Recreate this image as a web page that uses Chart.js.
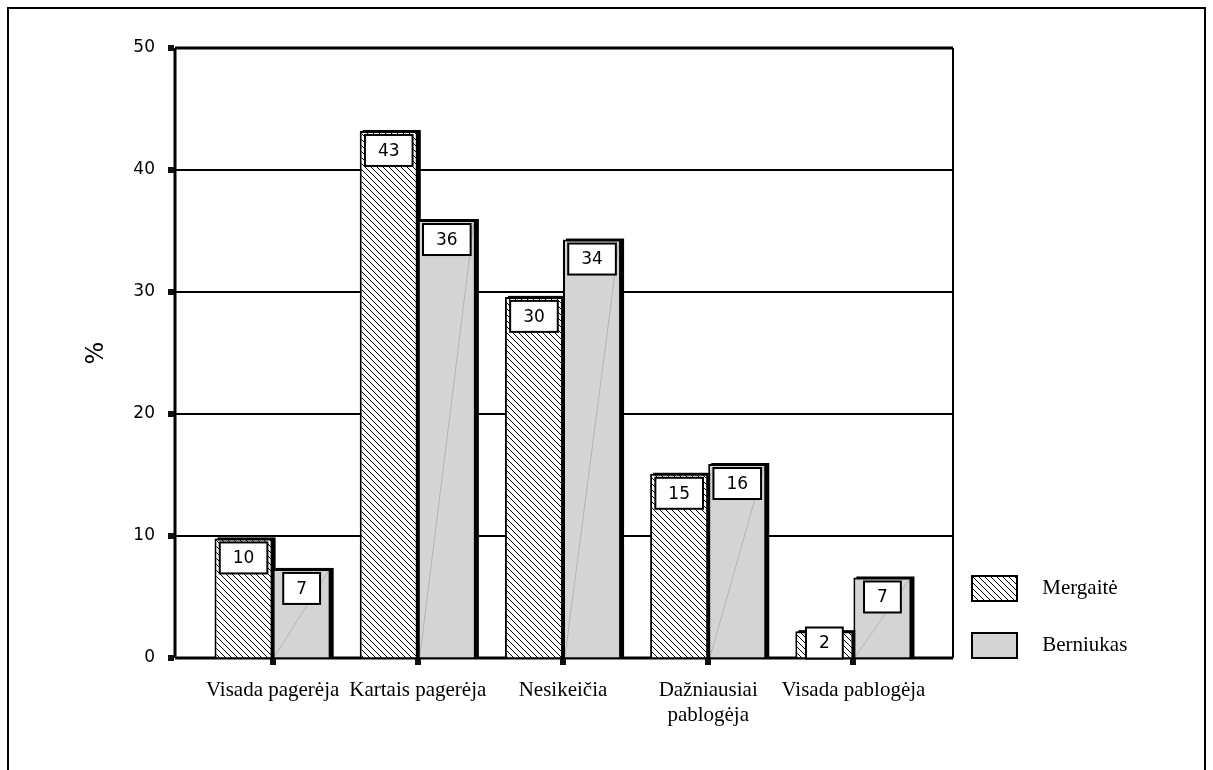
<!DOCTYPE html>
<html>
<head>
<meta charset="utf-8">
<script src="https://cdn.jsdelivr.net/npm/chart.js@4.4.0/dist/chart.umd.min.js"></script>
<style>
  body { margin: 0; background: #fff; }
  #wrap { position: relative; width: 1213px; height: 770px; overflow: hidden; }
  #frame { position: absolute; left: 7px; top: 7px; width: 1199px; height: 900px; border: 2px solid #000; box-sizing: border-box; }
  #chart { position: absolute; left: 0; top: 0; }
</style>
</head>
<body>
<div id="wrap">
  <div id="frame"></div>
  <canvas id="chart" width="1213" height="770"></canvas>
</div>
<script>
// data
const categories = ['Visada pagerėja', 'Kartais pagerėja', 'Nesikeičia', ['Dažniausiai', 'pablogėja'], 'Visada pablogėja'];
const seriesNames = ['Mergaitė', 'Berniukas'];
const girls = [9.8, 43.2, 29.6, 15.1, 2.2];
const boys = [7.3, 35.9, 34.3, 15.9, 6.6];
const yMin = 0, yMax = 50, yStep = 10;

Chart.defaults.font.family = '"DejaVu Sans", sans-serif';
Chart.defaults.color = '#000';

// diagonal hatch like the old office fill
function hatchPattern() {
    const c = document.createElement('canvas');
    c.width = 6; c.height = 6;
    const g = c.getContext('2d');
    g.fillStyle = '#fff';
    g.fillRect(0, 0, 6, 6);
    g.strokeStyle = '#000';
    g.lineWidth = 1;
    g.beginPath();
    g.moveTo(-1, -1); g.lineTo(7, 7);
    g.moveTo(-1, 5); g.lineTo(1, 7);
    g.moveTo(5, -1); g.lineTo(7, 1);
    g.stroke();
    return g.createPattern(c, 'repeat');
}

// plot frame + grid reaching past the bar area, square tick marks, bar shadows
const plotFrame = {
    id: 'plotFrame',
    beforeDatasetsDraw(chart) {
        const { ctx, chartArea: a, scales: { x, y } } = chart;
        const left = a.left - 25, right = a.right + 27;
        ctx.save();
        ctx.strokeStyle = '#000';
        ctx.lineWidth = 2;
        y.ticks.forEach(t => {
            if (t.value <= yMin || t.value >= yMax) return;
            const py = Math.round(y.getPixelForValue(t.value));
            ctx.beginPath(); ctx.moveTo(left, py); ctx.lineTo(right, py); ctx.stroke();
        });
        const top = Math.round(y.getPixelForValue(yMax)), bottom = Math.round(y.getPixelForValue(yMin));
        ctx.lineWidth = 3;
        ctx.beginPath();
        ctx.moveTo(left, top); ctx.lineTo(right, top);
        ctx.moveTo(left, top); ctx.lineTo(left, bottom);
        ctx.moveTo(left, bottom); ctx.lineTo(right, bottom);
        ctx.stroke();
        ctx.lineWidth = 2;
        ctx.beginPath(); ctx.moveTo(right, top); ctx.lineTo(right, bottom); ctx.stroke();

        ctx.fillStyle = '#111';
        y.ticks.forEach(t => {
            const py = Math.round(y.getPixelForValue(t.value));
            ctx.fillRect(left - 7, py - 3, 6, 6);
        });
        x.ticks.forEach((t, i) => {
            const px = Math.round(x.getPixelForTick(i));
            ctx.fillRect(px - 3, bottom + 1, 6, 6);
        });

        // dark drop shadow to the right of every bar
        ctx.fillStyle = '#000';
        chart.data.datasets.forEach((ds, di) => {
            chart.getDatasetMeta(di).data.forEach(bar => {
                const half = bar.width / 2;
                ctx.fillRect(bar.x - half + 3, bar.y - 1, bar.width, bar.base - bar.y + 1);
            });
        });
        ctx.restore();
    }
};

// boxed value labels at the top of each bar
const valueBoxes = {
    id: 'valueBoxes',
    afterDatasetsDraw(chart) {
        const ctx = chart.ctx;
        ctx.save();
        ctx.font = '17px "DejaVu Sans"';
        ctx.textAlign = 'center';
        ctx.textBaseline = 'middle';
        chart.data.datasets.forEach((ds, di) => {
            chart.getDatasetMeta(di).data.forEach((bar, i) => {
                if (di === 1) {
                    // faint diagonal seen in the grey bars
                    const half = bar.width / 2;
                    ctx.strokeStyle = 'rgba(120,120,120,0.6)';
                    ctx.lineWidth = 0.6;
                    ctx.beginPath();
                    ctx.moveTo(bar.x - half + 2, bar.base - 1);
                    ctx.lineTo(bar.x + half - 2, bar.y + 2);
                    ctx.stroke();
                }
                const txt = String(Math.round(ds.data[i]));
                const w = ctx.measureText(txt).width + 26, h = 31;
                const top = Math.min(bar.y + 4, bar.base - 30);
                ctx.fillStyle = '#fff';
                ctx.fillRect(bar.x - w / 2, top, w, h);
                ctx.lineWidth = 2;
                ctx.strokeStyle = '#000';
                ctx.strokeRect(bar.x - w / 2, top, w, h);
                ctx.fillStyle = '#000';
                ctx.fillText(txt, bar.x, top + h / 2 + 1);
            });
        });
        ctx.restore();
    }
};

// keep the legend column fixed so the bar area lands where the original has it
const legendPlace = {
    id: 'legendPlace',
    beforeLayout(chart) {
        const lg = chart.legend;
        if (lg && !lg._fixedWidth) {
            const fit = lg.fit;
            lg.fit = function () { fit.call(this); this.width = 287; };
            lg._fixedWidth = true;
        }
    },
    afterLayout(chart) {
        const lg = chart.legend;
        if (!lg) return;
        lg.left = chart.chartArea.right + 14;
        lg.right = lg.left + lg.width;
        lg.bottom = chart.chartArea.bottom + 32;
    }
};

const ctx = document.getElementById('chart').getContext('2d');
new Chart(ctx, {
    type: 'bar',
    data: {
        labels: categories,
        datasets: [{
            label: seriesNames[0],
            data: girls,
            backgroundColor: hatchPattern(),
            borderColor: '#000',
            borderWidth: 2
        }, {
            label: seriesNames[1],
            data: boys,
            backgroundColor: '#d4d4d4',
            borderColor: '#000',
            borderWidth: 2
        }]
    },
    options: {
        responsive: false,
        animation: false,
        layout: { padding: { top: 48, left: 0, right: 0, bottom: 0 } },
        categoryPercentage: 0.8,
        barPercentage: 1,
        plugins: {
            legend: {
                position: 'right',
                align: 'end',
                labels: {
                    boxWidth: 45,
                    boxHeight: 25,
                    padding: 32,
                    color: '#000',
                    font: { family: '"Liberation Serif", serif', size: 21 },
                    generateLabels(chart) {
                        return Chart.defaults.plugins.legend.labels.generateLabels(chart)
                            .map(item => ({ ...item, text: '\u2002\u2009' + item.text }));
                    }
                }
            },
            tooltip: { enabled: false }
        },
        scales: {
            x: {
                grid: { display: false, drawTicks: false },
                border: { display: false },
                ticks: {
                    padding: 20,
                    maxRotation: 0,
                    autoSkip: false,
                    color: '#000',
                    font: { family: '"Liberation Serif", serif', size: 21 }
                },
                afterFit(scale) { scale.height = 112; }
            },
            y: {
                min: yMin,
                max: yMax,
                // invisible long tick marks push the labels out to the frame's left
                grid: { color: 'rgba(0,0,0,0)', drawOnChartArea: false, drawTicks: true, tickLength: 40 },
                border: { display: false },
                ticks: {
                    stepSize: yStep,
                    padding: 5,
                    color: '#000',
                    font: { size: 17 }
                },
                title: {
                    display: true,
                    text: '%',
                    color: '#000',
                    font: { size: 24 },
                    padding: { top: 82 }
                },
                afterFit(scale) { scale.width = 200; }
            }
        }
    },
    plugins: [plotFrame, valueBoxes, legendPlace]
});
</script>
</body>
</html>
